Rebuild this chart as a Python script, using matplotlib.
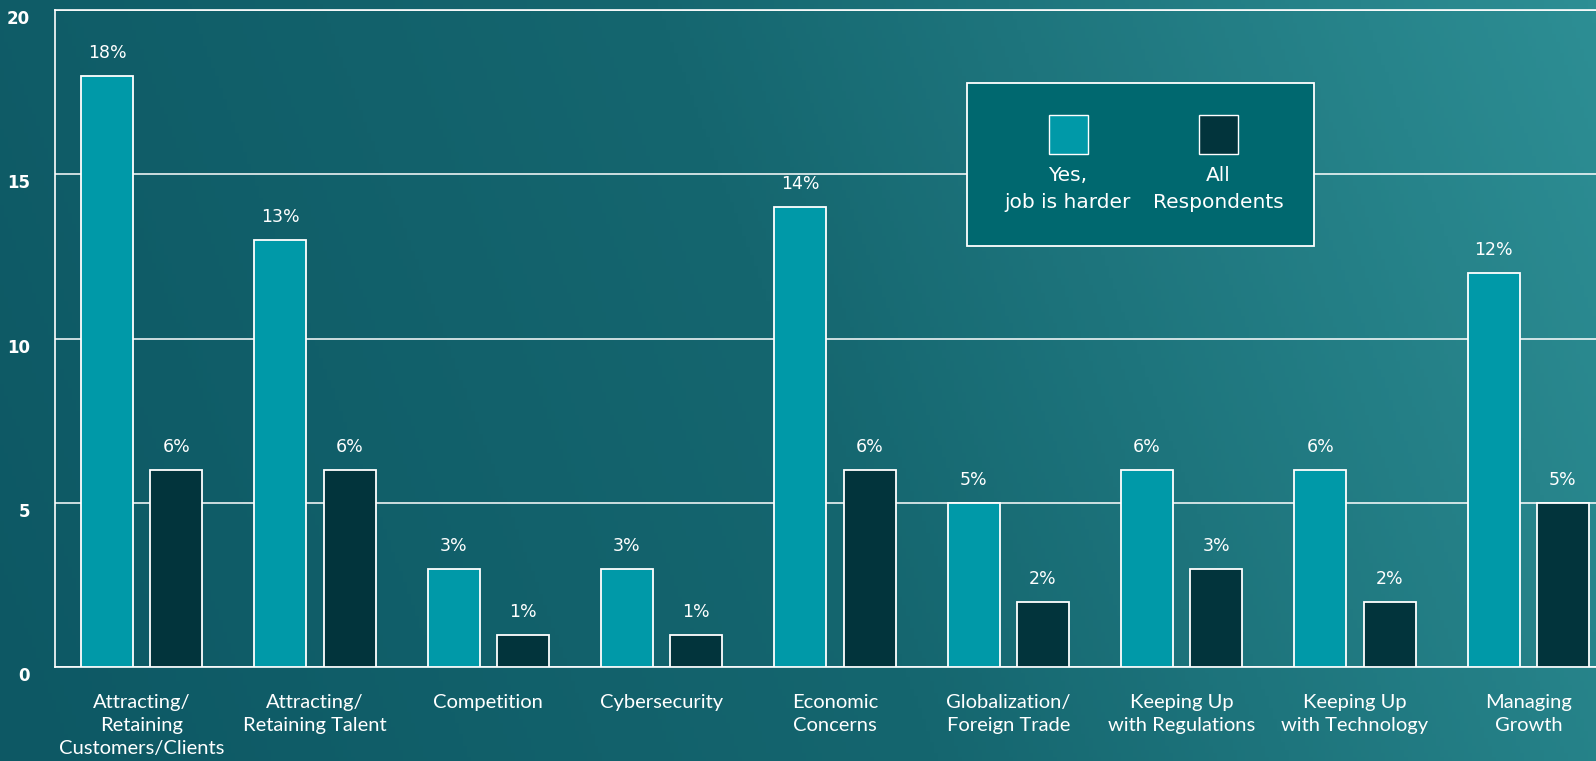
import matplotlib.pyplot as plt
import numpy as np
from matplotlib.colors import LinearSegmentedColormap
from matplotlib.patches import Rectangle

categories = [
    "Attracting/\nRetaining\nCustomers/Clients",
    "Attracting/\nRetaining Talent",
    "Competition",
    "Cybersecurity",
    "Economic\nConcerns",
    "Globalization/\nForeign Trade",
    "Keeping Up\nwith Regulations",
    "Keeping Up\nwith Technology",
    "Managing\nGrowth",
]
yes_harder = [18, 13, 3, 3, 14, 5, 6, 6, 12]
all_respondents = [6, 6, 1, 1, 6, 2, 3, 2, 5]
series_labels = ["Yes,\njob is harder", "All\nRespondents"]
yticks = [0, 5, 10, 15, 20]

LIGHT = "#0099a8"
DARK = "#02343c"
LEGEND_BG = "#00686f"


def main():
    fig = plt.figure(figsize=(15.96, 7.61), dpi=100)

    # teal gradient backdrop, lighter toward the upper right
    bg = fig.add_axes([0, 0, 1, 1], zorder=-10)
    gx, gy = np.meshgrid(np.linspace(0, 1, 400), np.linspace(0, 1, 200))
    t = 0.85 * gx + 0.15 * (1 - gy)
    t = (t - t.min()) / (t.max() - t.min())
    cmap = LinearSegmentedColormap.from_list(
        "bg", [(0, "#0d5864"), (0.5, "#15666f"), (1, "#2d8e94")])
    bg.imshow(t, cmap=cmap, aspect="auto", extent=[0, 1, 0, 1], origin="upper")
    bg.axis("off")

    ax = fig.add_axes([55 / 1596, 93.6 / 761, 1560 / 1596, 657.2 / 761])
    ax.patch.set_alpha(0)

    x = np.arange(len(categories))
    w = 0.3
    b1 = ax.bar(x - 0.2, yes_harder, w, color=LIGHT, edgecolor="white", linewidth=1.3, zorder=3)
    b2 = ax.bar(x + 0.2, all_respondents, w, color=DARK, edgecolor="white", linewidth=1.3, zorder=3)

    for bars, vals in ((b1, yes_harder), (b2, all_respondents)):
        for bar, v in zip(bars, vals):
            ax.annotate(f"{v}%", (bar.get_x() + bar.get_width() / 2, v),
                        xytext=(0, 10), textcoords="offset points",
                        ha="center", va="bottom", color="white", fontsize=12.5,
                        family="DejaVu Sans", zorder=4)

    ax.set_xlim(-0.5, len(categories) - 0.5)
    ax.set_ylim(0, 20)
    ax.set_yticks(yticks)
    ax.set_yticklabels([str(v) for v in yticks], fontsize=12, fontweight="bold",
                       color="white", va="top")
    ax.set_xticks(x)
    ax.set_xticklabels(categories, fontsize=14.5, color="white", family="Lato", linespacing=1.45)
    ax.tick_params(axis="both", length=0)
    ax.tick_params(axis="x", pad=19)
    ax.tick_params(axis="y", pad=18)

    ax.grid(axis="y", color="white", linewidth=1.1, zorder=1)
    ax.set_axisbelow(True)
    for side in ("left", "bottom", "top"):
        ax.spines[side].set_color("white")
        ax.spines[side].set_linewidth(1.2)
    ax.spines["right"].set_visible(False)

    # hand-built legend box: swatches above their labels
    fig.patches.append(Rectangle((967 / 1596, 1 - 246 / 761), 347 / 1596, 163 / 761,
                                 transform=fig.transFigure, facecolor=LEGEND_BG,
                                 edgecolor="white", linewidth=1.3, zorder=5))
    for cx, color, label in ((1068, LIGHT, series_labels[0]), (1218, DARK, series_labels[1])):
        fig.patches.append(Rectangle(((cx - 19.5) / 1596, 1 - 154 / 761), 39 / 1596, 39 / 761,
                                     transform=fig.transFigure, facecolor=color,
                                     edgecolor="white", linewidth=1.0, zorder=6))
        fig.text(cx / 1596, 1 - 189 / 761, label, ha="center", va="center",
                 color="white", fontsize=14.5, family="DejaVu Sans", linespacing=1.5, zorder=7)

    fig.savefig("out.png", dpi=100)


if __name__ == "__main__":
    main()
